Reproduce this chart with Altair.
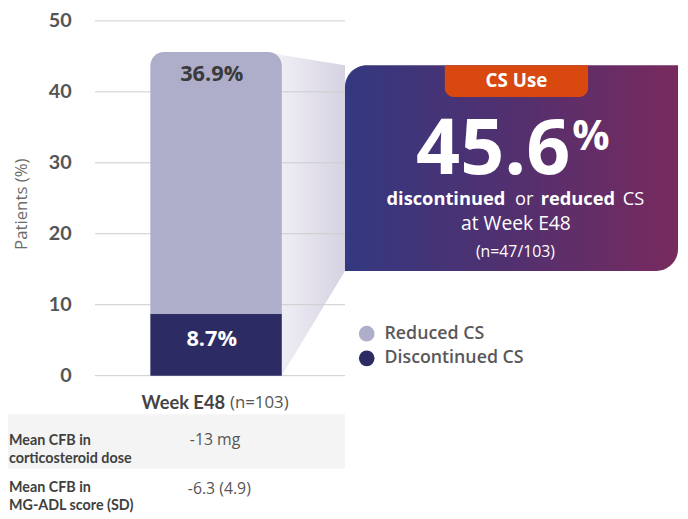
import altair as alt
import pandas as pd

# ---------------- data ----------------
category = ["Week E48"]
n_patients = [103]
segments = ["Discontinued CS", "Reduced CS"]
segment_values = [8.7, 36.9]
segment_colors = ["#2c2b63", "#aeadca"]
label_colors = ["#ffffff", "#3a3a3a"]
y_ticks = [0, 10, 20, 30, 40, 50]
n_responders = [47]
legend_order = ["Reduced CS", "Discontinued CS"]
table_labels = [["Mean CFB in", "corticosteroid dose"], ["Mean CFB in", "MG-ADL score (SD)"]]
table_values = ["-13 mg", "-6.3 (4.9)"]

# ---------------- layout / style ----------------
W, H = 253, 359          # plot area
OX, OY = 96, 18          # page position of the plot area's top-left corner
COND = "Lato"
SANS = "Open Sans"
one = pd.DataFrame({"k": [0]})


def px(x):  # page x -> plot x
    return x - OX


def py(y):  # page y -> plot y
    return y - OY


def yval(y):  # page y -> axis units
    return (OY + H - y) / H * 50


bar_df = pd.DataFrame({"cat": category * len(segments), "seg": segments, "value": segment_values})
bar_df["end"] = bar_df["value"].cumsum()
bar_df["start"] = bar_df["end"] - bar_df["value"]
bar_df["mid"] = (bar_df["start"] + bar_df["end"]) / 2
bar_df["label"] = bar_df["value"].map(lambda v: f"{v:.1f}%")
total = float(bar_df["end"].max())

cat_df = pd.DataFrame({"cat": category, "n": [f"(n={n})" for n in n_patients]})
tick_df = pd.DataFrame({"tick": y_ticks})

# wedge (decorative connector from bar to callout)
wedge_df = pd.DataFrame({"wx": [px(272), px(285), px(349)],
                         "top": [total, total - 0.4, yval(63)],
                         "bottom": [0, 0, yval(271)]})

yscale = alt.Scale(domain=[0, 50], nice=False, zero=True)
xscale = alt.Scale(paddingInner=0, paddingOuter=0.451, align=0.467)
yaxis = alt.Axis(values=y_ticks, grid=False, domain=False, ticks=False,
                 labelFont=COND, labelFontSize=20, labelFontWeight="bold",
                 labelColor="#555555", labelPadding=24,
                 title="Patients (%)", titleFont=SANS, titleFontSize=17,
                 titleFontWeight="normal", titleColor="#6b6b6b",
                 titleX=px(21.5), titleY=py(203), titleAngle=270,
                 titleAlign="center", titleBaseline="middle")
X = lambda: alt.X("cat:N", scale=xscale, axis=None)
Y = lambda f: alt.Y(f, type="quantitative", scale=yscale, axis=yaxis)


def txt(s, x, y, size, weight="normal", font=SANS, color="#ffffff",
        align="left", baseline="alphabetic"):
    return alt.Chart(one).mark_text(text=s, font=font, fontSize=size, fontWeight=weight,
                                    color=color, align=align, baseline=baseline).encode(
        x=alt.value(px(x)), y=alt.value(py(y)))


def rect(x1, x2, y1, y2, fill, **kw):
    return alt.Chart(one).mark_rect(color=fill, **kw).encode(
        x=alt.value(px(x1)), x2=alt.value(px(x2)), y=alt.value(py(y1)), y2=alt.value(py(y2)))


layers = []

# y axis carrier (invisible rules)
layers.append(alt.Chart(tick_df).mark_rule(opacity=0).encode(
    y=Y("tick"), x=alt.value(0), x2=alt.value(W)))

# table row background
layers.append(rect(0, OX + W, 416, 471, "#f4f4f4"))

# wedge
wedge_grad = alt.Gradient(gradient="linear", x1=0, x2=1, y1=0, y2=0,
                          stops=[alt.GradientStop(color="#f4f3f8", offset=0),
                                 alt.GradientStop(color="#d6d2e2", offset=1)])
layers.append(alt.Chart(wedge_df).mark_area(color=wedge_grad, interpolate="linear").encode(
    x=alt.X("wx:Q", scale=alt.Scale(domain=[0, W], nice=False, zero=False), axis=None),
    y=Y("top"), y2="bottom:Q"))

# gridlines drawn over the wedge
layers.append(alt.Chart(tick_df).mark_rule(color="#cccccc", strokeWidth=1).encode(
    y=Y("tick"), x=alt.value(0), x2=alt.value(W)))

# bars
base = alt.Chart(bar_df)
layers.append(base.transform_filter(alt.datum.seg == segments[0]).mark_bar(
    color=segment_colors[0]).encode(x=X(), y=Y("start"), y2="end:Q"))
layers.append(base.transform_filter(alt.datum.seg == segments[1]).mark_bar(
    color=segment_colors[1], cornerRadiusTopLeft=14, cornerRadiusTopRight=14).encode(
    x=X(), y=Y("start"), y2="end:Q"))

# bar labels
layers.append(base.transform_filter(alt.datum.seg == segments[0]).mark_text(
    font=SANS, fontWeight="bold", fontSize=22, color=label_colors[0],
    baseline="middle", dy=-6).encode(x=X(), y=Y("mid"), text="label:N"))
layers.append(base.transform_filter(alt.datum.seg == segments[1]).mark_text(
    font=SANS, fontWeight="bold", fontSize=22, color=label_colors[1],
    baseline="middle", dy=22).encode(x=X(), y=Y("end"), text="label:N"))

# category label under the bar
layers.append(alt.Chart(cat_df).mark_text(
    font=COND, fontWeight="bold", fontSize=18.5, color="#444444", align="right", dx=13.5).encode(
    x=X(), y=alt.value(py(405)), text="cat:N"))
layers.append(alt.Chart(cat_df).mark_text(
    font=SANS, fontSize=17, color="#555555", align="left", dx=18.5).encode(
    x=X(), y=alt.value(py(405)), text="n:N"))

# callout panel
panel_grad = alt.Gradient(gradient="linear", x1=0, x2=1, y1=0, y2=0,
                          stops=[alt.GradientStop(color="#333880", offset=0),
                                 alt.GradientStop(color="#52306f", offset=0.5),
                                 alt.GradientStop(color="#782a5e", offset=1)])
layers.append(rect(349, 686, 63, 271, panel_grad, cornerRadiusTopLeft=22, cornerRadiusBottomRight=22))
layers.append(rect(450, 595, 63, 95, "#d9480f", cornerRadiusBottomLeft=9, cornerRadiusBottomRight=9))
layers.append(txt("CS Use", 522.5, 79, 19, "bold", align="center", baseline="middle"))
layers.append(txt(f"{total:.1f}", 577, 173, 78, "bold", align="right"))
layers.append(txt("%", 579, 148.5, 42, "bold"))
layers.append(txt("discontinued", 391, 204, 18.5, "bold"))
layers.append(txt("or", 521, 204, 18.5))
layers.append(txt("reduced", 547, 204, 18.5, "bold"))
layers.append(txt("CS", 630, 204, 18.5))
layers.append(txt("at " + category[0], 522, 230, 19.5, align="center"))
layers.append(txt(f"(n={n_responders[0]}/{n_patients[0]})", 521.5, 257, 16, align="center"))

# legend
seg_color = dict(zip(segments, segment_colors))
for i, name in enumerate(legend_order):
    ly = 334.5 + 25 * i
    layers.append(alt.Chart(one).mark_circle(size=250, opacity=1, color=seg_color[name]).encode(
        x=alt.value(px(371)), y=alt.value(py(ly))))
    layers.append(txt(name, 389, ly, 18, 600, color="#58585a", baseline="middle"))

# table
row_y = [447, 495]
val_y = [447, 497]
val_x = [192, 190]
for i, lines in enumerate(table_labels):
    for j, line in enumerate(lines):
        layers.append(txt(line, 9, row_y[i] + 18 * j, 14.5, "bold", font=COND, color="#404040"))
    layers.append(txt(table_values[i], val_x[i], val_y[i], 16, color="#555555"))

chart = alt.layer(*layers).resolve_scale(x="independent").properties(
    width=W, height=H,
    padding={"left": OX - 8, "top": OY - 8, "right": 680 - (OX - 8) - W, "bottom": 511 - (OY - 8) - H},
    autosize=alt.AutoSizeParams(type="none"),
    background="#ffffff",
).configure_view(stroke=None)

chart.save("out.html", embed_options={"renderer": "svg", "actions": False})
